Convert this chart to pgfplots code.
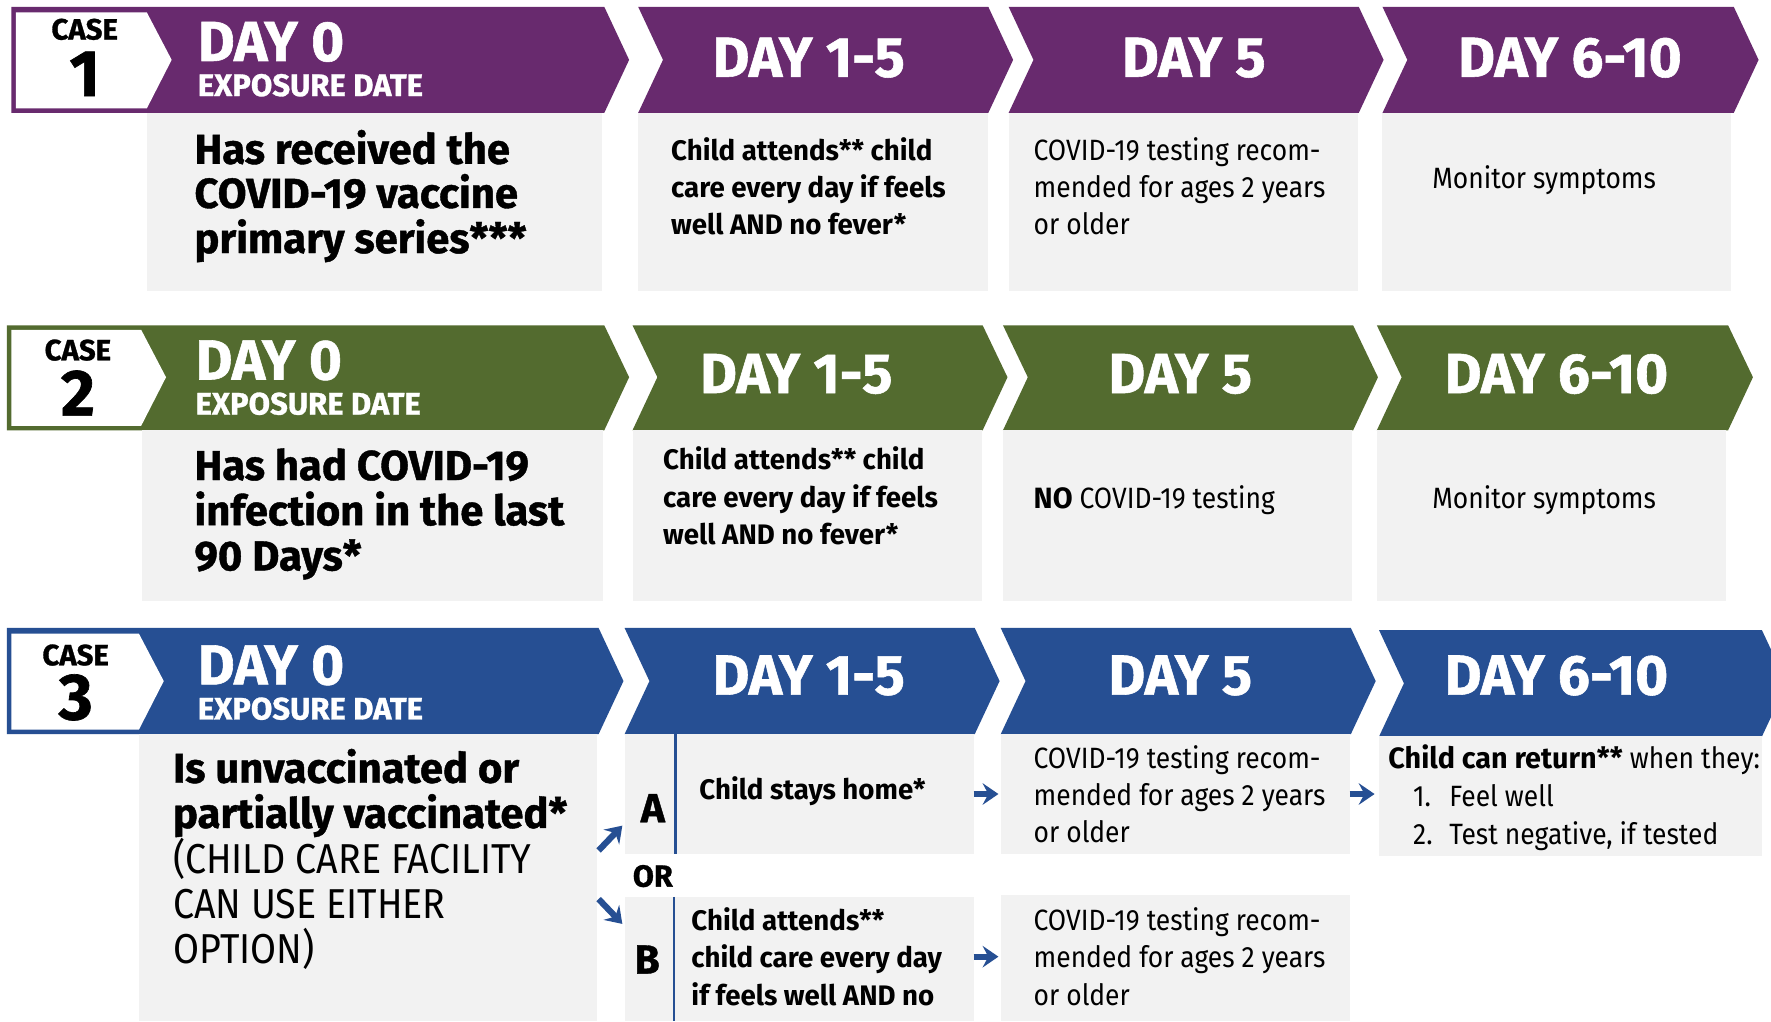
\documentclass[border=0pt]{standalone}
\usepackage{fontspec}
\usepackage{pgfplots}
\pgfplotsset{compat=1.18}
\usetikzlibrary{arrows.meta}
\setmainfont{Fira Sans}[FakeStretch=0.9]
\newfontfamily\hvf{Fira Sans}[FakeStretch=1.0, BoldFeatures={FakeBold=1}]
\newfontfamily\bdf{Fira Sans}[FakeStretch=0.98]
\newcommand{\hv}{\hvf\bfseries}
\newcommand{\lt}{\normalfont}
\definecolor{cpurple}{HTML}{682A6E}
\definecolor{cgreen}{HTML}{536B2F}
\definecolor{cblue}{HTML}{264F93}
\definecolor{cgrey}{HTML}{F2F2F2}
\newcommand{\T}[5]{\node[anchor=#1, inner sep=0pt, font=#2] at (axis cs:#3,#4) {#5};}
\newcommand{\fDay}{\hv\fontsize{50}{50}\selectfont\color{white}}
\newcommand{\fExp}{\hv\fontsize{27.5}{27.5}\selectfont\color{white}}
\newcommand{\fCase}{\hv\fontsize{26}{26}\selectfont}
\newcommand{\fNum}{\hv\fontsize{58}{58}\selectfont}
\newcommand{\fDesc}{\hv\fontsize{37}{37}\selectfont}
\newcommand{\fDescL}{\lt\fontsize{37}{37}\selectfont}
\newcommand{\fB}{\bdf\bfseries\fontsize{25}{25}\selectfont}
\newcommand{\fL}{\lt\fontsize{26}{26}\selectfont}
\newcommand{\fAB}{\hv\fontsize{36}{36}\selectfont}
\newcommand{\fOR}{\hv\fontsize{27}{27}\selectfont}
\tikzset{arr/.style={draw=cblue, line width=5.5pt, -{Stealth[length=14pt,width=19pt,inset=5pt]}}}
\begin{document}
\begin{tikzpicture}
\begin{axis}[scale only axis, width=1568pt, height=904pt,
  xmin=0, xmax=1568, ymin=0, ymax=904, y dir=reverse,
  hide axis, clip=true, every axis plot/.append style={mark=none}]
% background
\addplot[fill=white, draw=none] coordinates {(0,0)(1568,0)(1568,904)(0,904)} -- cycle;
% ---------------- ROW 1 ----------------
\addplot[fill=cpurple, draw=none] coordinates {(10,6)(535,6)(557,53)(535,100)(10,100)} -- cycle;
\addplot[fill=white, draw=none] coordinates {(14,11)(130,11)(152,53)(130,96)(14,96)} -- cycle;
\addplot[fill=cgrey, draw=none] coordinates {(130,100)(533,100)(533,258)(130,258)} -- cycle;
\addplot[fill=cpurple, draw=none] coordinates {(565,6)(875,6)(897,53)(875,100)(565,100)(587,53)} -- cycle;
\addplot[fill=cgrey, draw=none] coordinates {(565,100)(875,100)(875,258)(565,258)} -- cycle;
\addplot[fill=cpurple, draw=none] coordinates {(893,6)(1203,6)(1225,53)(1203,100)(893,100)(915,53)} -- cycle;
\addplot[fill=cgrey, draw=none] coordinates {(893,100)(1202,100)(1202,258)(893,258)} -- cycle;
\addplot[fill=cpurple, draw=none] coordinates {(1224,6)(1535,6)(1557,53)(1535,100)(1224,100)(1246,53)} -- cycle;
\addplot[fill=cgrey, draw=none] coordinates {(1224,100)(1533,100)(1533,258)(1224,258)} -- cycle;
% ---------------- ROW 2 ----------------
\addplot[fill=cgreen, draw=none] coordinates {(6,288)(535,288)(557,334)(535,381)(6,381)} -- cycle;
\addplot[fill=white, draw=none] coordinates {(10,292)(125,292)(147,334)(125,377)(10,377)} -- cycle;
\addplot[fill=cgrey, draw=none] coordinates {(126,381)(534,381)(534,532)(126,532)} -- cycle;
\addplot[fill=cgreen, draw=none] coordinates {(560,288)(870,288)(892,334)(870,381)(560,381)(582,334)} -- cycle;
\addplot[fill=cgrey, draw=none] coordinates {(560,381)(869,381)(869,532)(560,532)} -- cycle;
\addplot[fill=cgreen, draw=none] coordinates {(888,288)(1198,288)(1220,334)(1198,381)(888,381)(910,334)} -- cycle;
\addplot[fill=cgrey, draw=none] coordinates {(888,381)(1197,381)(1197,532)(888,532)} -- cycle;
\addplot[fill=cgreen, draw=none] coordinates {(1219,288)(1530,288)(1552,334)(1530,381)(1219,381)(1241,334)} -- cycle;
\addplot[fill=cgrey, draw=none] coordinates {(1219,381)(1528,381)(1528,532)(1219,532)} -- cycle;
% ---------------- ROW 3 ----------------
\addplot[fill=cblue, draw=none] coordinates {(6,556)(530,556)(552,603)(530,650)(6,650)} -- cycle;
\addplot[fill=white, draw=none] coordinates {(10,561)(123,561)(145,603)(123,646)(10,646)} -- cycle;
\addplot[fill=cgrey, draw=none] coordinates {(123,650)(529,650)(529,904)(123,904)} -- cycle;
\addplot[fill=cblue, draw=none] coordinates {(553,556)(863,556)(885,603)(863,650)(553,650)(575,603)} -- cycle;
\addplot[fill=cgrey, draw=none] coordinates {(553,650)(862,650)(862,756)(553,756)} -- cycle;
\addplot[fill=cgrey, draw=none] coordinates {(553,794)(862,794)(862,904)(553,904)} -- cycle;
\addplot[draw=cblue, line width=2pt] coordinates {(598,650)(598,756)};
\addplot[draw=cblue, line width=2pt] coordinates {(597,794)(597,904)};
\addplot[fill=cblue, draw=none] coordinates {(886,556)(1196,556)(1218,603)(1196,650)(886,650)(908,603)} -- cycle;
\addplot[fill=cgrey, draw=none] coordinates {(886,650)(1195,650)(1195,756)(886,756)} -- cycle;
\addplot[fill=cgrey, draw=none] coordinates {(886,792)(1195,792)(1195,904)(886,904)} -- cycle;
\addplot[fill=cblue, draw=none] coordinates {(1221,558)(1560,558)(1582,605)(1560,652)(1221,652)(1243,605)} -- cycle;
\addplot[fill=cgrey, draw=none] coordinates {(1221,652)(1560,652)(1560,758)(1221,758)} -- cycle;
% arrows
\addplot[arr] coordinates {(862,703)(884,703)};
\addplot[arr] coordinates {(1195,703)(1217,703)};
\addplot[arr] coordinates {(862,847)(884,847)};
\addplot[arr] coordinates {(530,753)(551,731)};
\addplot[arr] coordinates {(530,796)(551,818)};
% ---------------- TEXT ROW 1 ----------------
\T{base}{\fCase}{75}{35}{CASE}
\T{base}{\fNum}{75}{85}{1}
\T{base west}{\fDay}{175}{54}{DAY 0}
\T{base west}{\fExp}{175}{85}{EXPOSURE DATE}
\T{base}{\fDay}{716}{68}{DAY 1-5}
\T{base}{\fDay}{1057}{68}{DAY 5}
\T{base}{\fDay}{1390}{68}{DAY 6-10}
\T{base west}{\fDesc}{172}{145}{Has received the}
\T{base west}{\fDesc}{172}{184}{COVID-19 vaccine}
\T{base west}{\fDesc}{172}{224}{primary series***}
\T{base west}{\fB}{594}{142}{Child attends** child}
\T{base west}{\fB}{594}{175}{care every day if feels}
\T{base west}{\fB}{594}{208}{well AND no fever*}
\T{base west}{\fL}{915}{142}{COVID-19 testing recom-}
\T{base west}{\fL}{915}{175}{mended for ages 2 years}
\T{base west}{\fL}{915}{208}{or older}
\T{base west}{\fL}{1268}{167}{Monitor symptoms}
% ---------------- TEXT ROW 2 ----------------
\T{base}{\fCase}{69}{319}{CASE}
\T{base}{\fNum}{69}{368}{2}
\T{base west}{\fDay}{173}{336}{DAY 0}
\T{base west}{\fExp}{173}{367}{EXPOSURE DATE}
\T{base}{\fDay}{705}{348}{DAY 1-5}
\T{base}{\fDay}{1045}{348}{DAY 5}
\T{base}{\fDay}{1378}{348}{DAY 6-10}
\T{base west}{\fDesc}{172}{425}{Has had COVID-19}
\T{base west}{\fDesc}{172}{465}{infection in the last}
\T{base west}{\fDesc}{172}{505}{90 Days*}
\T{base west}{\fB}{587}{416}{Child attends** child}
\T{base west}{\fB}{587}{449}{care every day if feels}
\T{base west}{\fB}{587}{482}{well AND no fever*}
\T{base west}{\fL}{915}{450}{{\bdf\bfseries NO} COVID-19 testing}
\T{base west}{\fL}{1268}{450}{Monitor symptoms}
% ---------------- TEXT ROW 3 ----------------
\T{base}{\fCase}{67}{589}{CASE}
\T{base}{\fNum}{67}{637}{3}
\T{base west}{\fDay}{175}{606}{DAY 0}
\T{base west}{\fExp}{175}{637}{EXPOSURE DATE}
\T{base}{\fDay}{716}{615}{DAY 1-5}
\T{base}{\fDay}{1045}{615}{DAY 5}
\T{base}{\fDay}{1378}{615}{DAY 6-10}
\T{base west}{\fDesc}{153}{693}{Is unvaccinated or}
\T{base west}{\fDesc}{153}{733}{partially vaccinated*}
\T{base west}{\fDescL}{153}{773}{(CHILD CARE FACILITY}
\T{base west}{\fDescL}{153}{813}{CAN USE EITHER}
\T{base west}{\fDescL}{153}{853}{OPTION)}
\T{base}{\fAB}{578}{728}{A}
\T{base}{\fOR}{578}{785}{OR}
\T{base}{\fAB}{573}{862}{B}
\T{base west}{\fB}{619}{708}{Child stays home*}
\T{base west}{\fB}{612}{824}{Child attends**}
\T{base west}{\fB}{612}{857}{child care every day}
\T{base west}{\fB}{612}{890}{if feels well AND no}
\T{base west}{\fL}{915}{680}{COVID-19 testing recom-}
\T{base west}{\fL}{915}{713}{mended for ages 2 years}
\T{base west}{\fL}{915}{746}{or older}
\T{base west}{\fL}{915}{824}{COVID-19 testing recom-}
\T{base west}{\fL}{915}{857}{mended for ages 2 years}
\T{base west}{\fL}{915}{890}{or older}
\T{base west}{\fL}{1229}{680}{{\bdf\bfseries Child can return**} when they:}
\T{base west}{\fL}{1251}{714}{1.}
\T{base west}{\fL}{1283}{714}{Feel well}
\T{base west}{\fL}{1251}{748}{2.}
\T{base west}{\fL}{1283}{748}{Test negative, if tested}
\end{axis}
\end{tikzpicture}
\end{document}
